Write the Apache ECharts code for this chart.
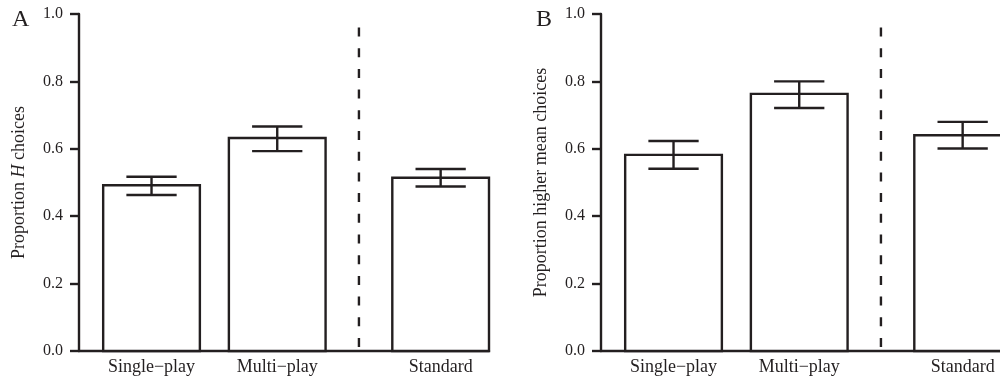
<!DOCTYPE html>
<html>
<head>
<meta charset="utf-8">
<script src="https://cdn.jsdelivr.net/npm/echarts@6/dist/echarts.min.js"></script>
<style>
  html, body { margin: 0; padding: 0; background: #fff; }
  #chart { width: 1000px; height: 384px; }
</style>
</head>
<body>
<div id="chart"></div>
<script>
// ---- data ----
const categories = ['Single\u2212play', 'Multi\u2212play', 'Standard'];
const meanA = [0.492, 0.632, 0.514];
const lowA  = [0.463, 0.593, 0.488];
const highA = [0.517, 0.666, 0.540];
const meanB = [0.582, 0.763, 0.640];
const lowB  = [0.541, 0.721, 0.601];
const highB = [0.623, 0.800, 0.680];
const yTickValues = [0, 0.2, 0.4, 0.6, 0.8, 1.0];
const dividerValue = [2.895];      // x of dashed separator (axis units)
const dividerTop = [0.96];
// x slot (axis units) of each category on the value x-axis
const slotX = [0.75, 2.05, 3.74];

// ---- style / layout ----
const INK = '#231f20';
const LW = 2.4;
const FONT = 'Liberation Serif';
const BAR_W = 1.0;
const CAP_W = 0.52;
const PX_PER_UNIT = 410 / 4.24;

function grid(left, width) {
  return { left: left, top: 14, width: width, height: 337, containLabel: false };
}

function xAxis(gi, max) {
  return {
    type: 'value', gridIndex: gi, min: 0, max: max,
    axisLine: { show: true, lineStyle: { color: INK, width: LW } },
    axisTick: { show: false },
    splitLine: { show: false },
    axisLabel: {
      customValues: slotX,
      margin: 7,
      color: INK, fontFamily: FONT, fontSize: 18,
      formatter: function (v) {
        for (let i = 0; i < slotX.length; i++) if (Math.abs(slotX[i] - v) < 1e-6) return categories[i];
        return '';
      }
    }
  };
}

function yAxis(gi, nameRich) {
  return {
    type: 'value', gridIndex: gi, min: 0, max: 1, interval: 0.2,
    name: nameRich, nameLocation: 'middle', nameGap: 51, nameRotate: 90,
    nameTextStyle: {
      color: INK, fontFamily: FONT, fontSize: 18,
      rich: {
        a: { color: INK, fontFamily: FONT, fontSize: 18 },
        i: { color: INK, fontFamily: FONT, fontSize: 18, fontStyle: 'italic' }
      }
    },
    axisLine: { show: true, lineStyle: { color: INK, width: LW } },
    axisTick: { show: true, inside: false, length: 9, lineStyle: { color: INK, width: LW } },
    splitLine: { show: false },
    axisLabel: {
      margin: 16, color: INK, fontFamily: FONT, fontSize: 16,
      customValues: yTickValues,
      formatter: function (v) { return v.toFixed(1); }
    }
  };
}

function barSeries(gi, means) {
  return {
    type: 'custom', xAxisIndex: gi, yAxisIndex: gi, z: 2,
    data: means.map(function (m, i) { return [slotX[i], m]; }),
    renderItem: function (params, api) {
      const x = api.value(0), y = api.value(1);
      const p0 = api.coord([x - BAR_W / 2, y]);
      const p1 = api.coord([x + BAR_W / 2, 0]);
      return {
        type: 'rect',
        shape: { x: p0[0], y: p0[1], width: p1[0] - p0[0], height: p1[1] - p0[1] },
        style: { fill: '#fff', stroke: INK, lineWidth: LW }
      };
    }
  };
}

function errSeries(gi, lows, highs) {
  return {
    type: 'custom', xAxisIndex: gi, yAxisIndex: gi, z: 3,
    data: lows.map(function (l, i) { return [slotX[i], l, highs[i]]; }),
    renderItem: function (params, api) {
      const x = api.value(0), lo = api.value(1), hi = api.value(2);
      const pl = api.coord([x, lo]);
      const ph = api.coord([x, hi]);
      const cl = api.coord([x - CAP_W / 2, lo]);
      const cr = api.coord([x + CAP_W / 2, lo]);
      const s = { stroke: INK, lineWidth: LW };
      return {
        type: 'group',
        children: [
          { type: 'line', shape: { x1: pl[0], y1: pl[1], x2: ph[0], y2: ph[1] }, style: s },
          { type: 'line', shape: { x1: cl[0], y1: pl[1], x2: cr[0], y2: pl[1] }, style: s },
          { type: 'line', shape: { x1: cl[0], y1: ph[1], x2: cr[0], y2: ph[1] }, style: s }
        ]
      };
    }
  };
}

function dividerSeries(gi) {
  return {
    type: 'custom', xAxisIndex: gi, yAxisIndex: gi, z: 1,
    data: dividerValue.map(function (d, i) { return [d, dividerTop[i]]; }),
    renderItem: function (params, api) {
      const top = api.coord([api.value(0), api.value(1)]);
      const bot = api.coord([api.value(0), 0]);
      return {
        type: 'line',
        shape: { x1: top[0], y1: top[1], x2: bot[0], y2: bot[1] },
        style: { stroke: INK, lineWidth: LW, lineDash: [9, 11.7] }
      };
    }
  };
}

const widthB = 1000 - 601;
const chart = echarts.init(document.getElementById('chart'), null, { renderer: 'canvas' });
chart.setOption({
  animation: false,
  backgroundColor: '#fff',
  grid: [grid(79, 410), grid(601, widthB)],
  xAxis: [xAxis(0, 4.24), xAxis(1, widthB / PX_PER_UNIT)],
  yAxis: [
    yAxis(0, '{a|Proportion }{i|H}{a| choices}'),
    yAxis(1, 'Proportion higher mean choices')
  ],
  graphic: [
    { type: 'text', left: 12, top: 8, style: { text: 'A', fill: INK, font: '24px "Liberation Serif"' } },
    { type: 'text', left: 536, top: 8, style: { text: 'B', fill: INK, font: '24px "Liberation Serif"' } }
  ],
  series: [
    dividerSeries(0), barSeries(0, meanA), errSeries(0, lowA, highA),
    dividerSeries(1), barSeries(1, meanB), errSeries(1, lowB, highB)
  ]
});
</script>
</body>
</html>
